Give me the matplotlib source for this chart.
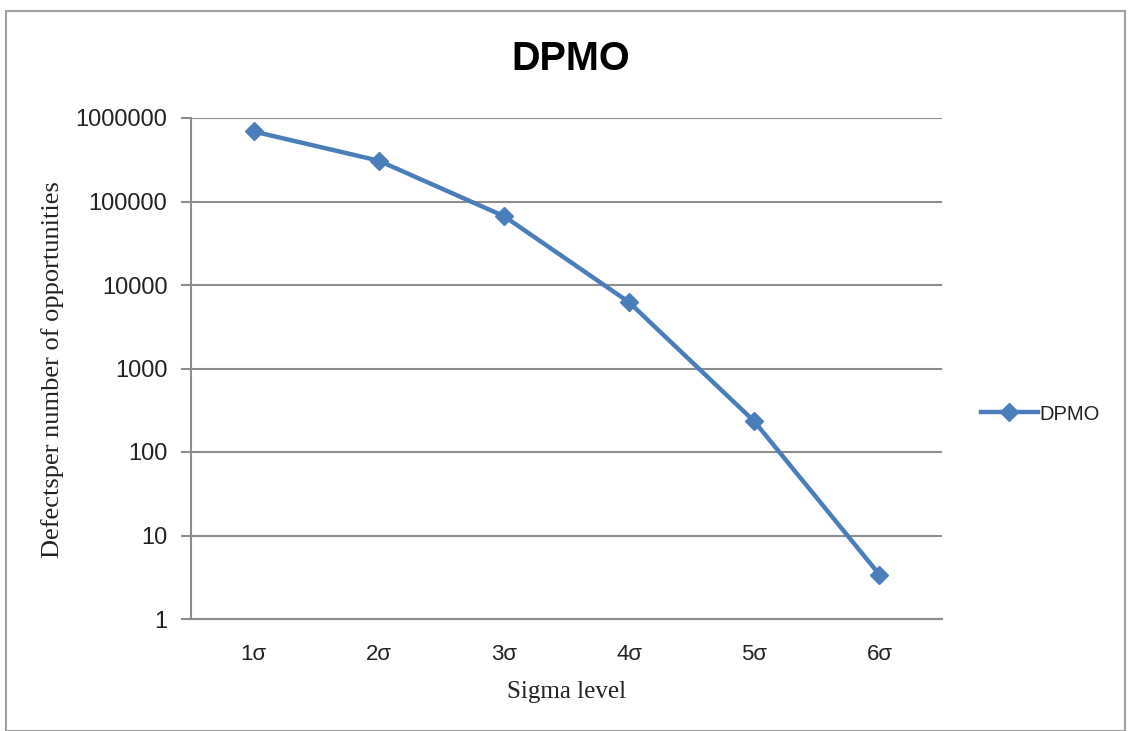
import numpy as np
import matplotlib
matplotlib.use('Agg')
import matplotlib.pyplot as plt
from matplotlib.patches import Rectangle

# 数据
levels = ['1σ', '2σ', '3σ', '4σ', '5σ', '6σ']
dpmo = [690000, 308000, 66800, 6210, 233, 3.4]
yticks = [1, 10, 100, 1000, 10000, 100000, 1000000]

blue = '#4A7EBB'
grid_col = '#8C8C8C'

fig = plt.figure(figsize=(11.31, 7.31), dpi=100)
W, H = 1131, 731

# 外边框
fig.patches.append(Rectangle((6/W, 0), 1119/W, (H-11)/H, transform=fig.transFigure,
                             fill=False, edgecolor='#A0A0A0', linewidth=1.5))

ax = fig.add_axes([191/W, (H-619)/H, 751/W, 501/H])
x = np.arange(len(levels))
ax.plot(x, dpmo, color=blue, linewidth=3.2, marker='D', markersize=9,
        markerfacecolor=blue, markeredgecolor=blue, label='DPMO')

ax.set_yscale('log')
ax.set_ylim(1, 1000000)
ax.set_xlim(-0.5, len(levels)-0.5)
ax.set_yticks(yticks)
ax.set_yticklabels([str(v) for v in yticks], fontsize=17, family='Liberation Sans', color='#222222')
ax.yaxis.set_minor_locator(matplotlib.ticker.NullLocator())
ax.set_xticks(x)
ax.set_xticklabels(levels, fontsize=16, family='Liberation Sans', color='#222222')
ax.tick_params(axis='x', length=0, pad=18)
ax.tick_params(axis='y', length=7, width=1.5, color=grid_col, pad=10)

ax.grid(axis='y', color=grid_col, linewidth=1.5)
ax.set_axisbelow(True)
for s in ['top', 'right']:
    ax.spines[s].set_visible(False)
ax.spines['left'].set_color(grid_col)
ax.spines['bottom'].set_color(grid_col)
ax.spines['left'].set_linewidth(1.5)
ax.spines['bottom'].set_linewidth(1.5)

fig.text(571/W, 1-59/H, 'DPMO', ha='center', va='center', fontsize=28.5,
         fontweight='bold', family='Liberation Sans')
fig.text(53/W, 1-370/H, 'Defectsper number of opportunities', rotation=90,
         ha='center', va='center', fontsize=19, family='Liberation Serif', color='#222222')
fig.text(567/W, 1-692/H, 'Sigma level', ha='center', va='center', fontsize=18,
         family='Liberation Serif', color='#222222')

leg = fig.legend(loc='center left', bbox_to_anchor=(963/W, 1-414/H), frameon=False,
                 prop={'family': 'Liberation Sans', 'size': 14.5}, handlelength=2.8,
                 handletextpad=0.1)
for t in leg.get_texts():
    t.set_color('#222222')

fig.savefig('out.png', dpi=100)
